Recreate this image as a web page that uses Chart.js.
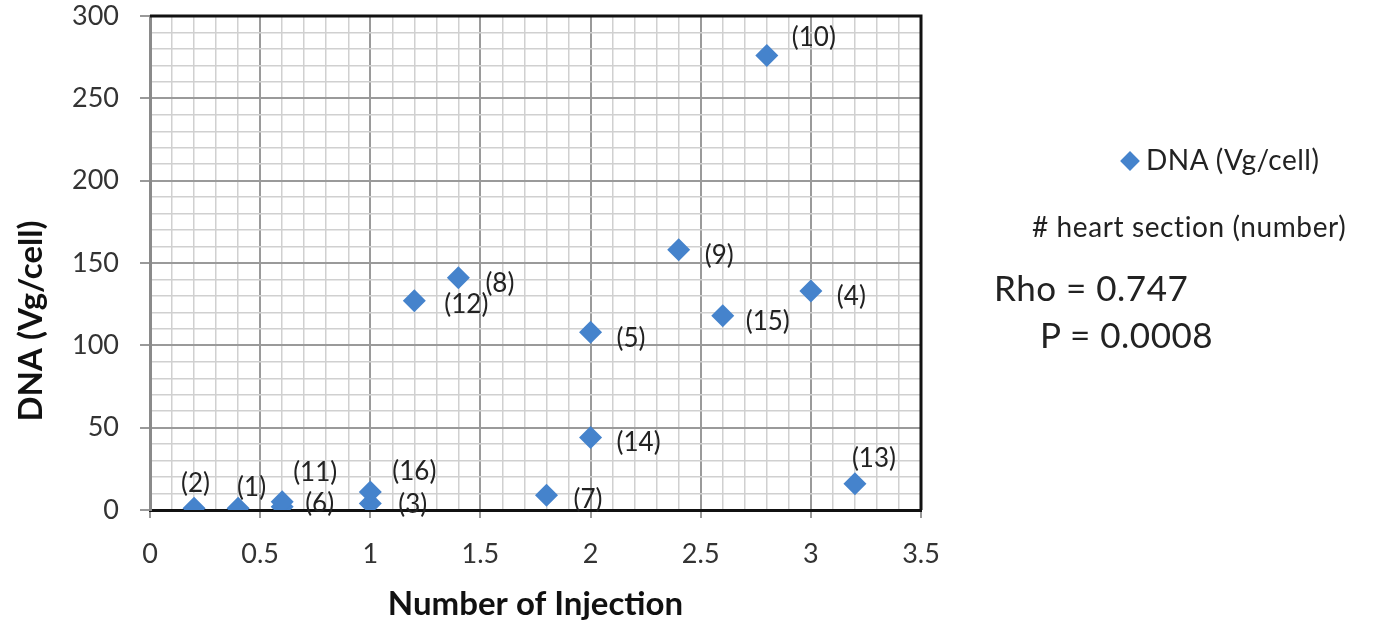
<!DOCTYPE html>
<html>
<head>
<meta charset="utf-8">
<script src="https://cdn.jsdelivr.net/npm/chart.js@4.4.0/dist/chart.umd.min.js"></script>
<style>
    body { margin: 0; background: #fff; }
    #wrap { position: relative; width: 1374px; height: 627px; }
    #c { position: absolute; left: 0; top: 0; }
    .side { position: absolute; font-family: Lato, "Open Sans", sans-serif; color: #222; white-space: nowrap; line-height: 1; }
    .dia { display: inline-block; width: 14px; height: 14px; background: #4583cc; transform: rotate(45deg); margin: 0 9px 4px 2px; vertical-align: middle; }
</style>
</head>
<body>
<div id="wrap">
    <canvas id="c" width="1374" height="627"></canvas>
    <div class="side" style="left:1121px; top:145px; font-size:28px; letter-spacing:0.5px;"><span class="dia"></span>DNA (Vg/cell)</div>
    <div class="side" style="left:1032px; top:212px; font-size:28px; letter-spacing:0.6px;"># heart section (number)</div>
    <div class="side" style="left:994px; top:270px; font-size:35px; letter-spacing:0.5px;">Rho = 0.747</div>
    <div class="side" style="left:1040px; top:317px; font-size:35px; letter-spacing:0.5px;">P = 0.0008</div>
</div>
<script>
// heart sections (1)..(16)
const sectionLabels = ['(1)', '(2)', '(3)', '(4)', '(5)', '(6)', '(7)', '(8)',
    '(9)', '(10)', '(11)', '(12)', '(13)', '(14)', '(15)', '(16)'];
const injections = [0.4, 0.2, 1, 3, 2, 0.6, 1.8, 1.4, 2.4, 2.8, 0.6, 1.2, 3.2, 2, 2.6, 1];
const dnaValues = [1, 1, 4, 133, 108, 2, 9, 141, 158, 276, 5, 127, 16, 44, 118, 11];

// where each label sits relative to its point (left edge, vertical centre)
const labelOffsets = [[-1, -21], [-13, -25], [28, 1], [26, 6], [26, 6], [23, -3], [27, 4], [27, 6],
    [26, 6], [25, -18], [11, -29], [30, 4], [-3, -25], [26, 5], [23, 6], [22, -20]];

const FONT = 'Lato, "Open Sans", sans-serif';

function isMajor(v, step) {
    const r = v / step;
    return Math.abs(r - Math.round(r)) < 1e-6;
}

const pointLabels = {
    id: 'pointLabels',
    afterDatasetsDraw(chart) {
        const ctx = chart.ctx;
        const meta = chart.getDatasetMeta(0);
        ctx.save();
        ctx.font = '26px ' + FONT;
        ctx.fillStyle = '#222';
        ctx.textAlign = 'left';
        ctx.textBaseline = 'middle';
        meta.data.forEach((pt, i) => {
            const off = labelOffsets[i];
            ctx.fillText(sectionLabels[i], pt.x + off[0], pt.y + off[1]);
        });
        ctx.restore();
    }
};

const frame = {
    id: 'frame',
    afterDraw(chart) {
        const a = chart.chartArea;
        const ctx = chart.ctx;
        ctx.save();
        ctx.strokeStyle = '#111';
        ctx.lineWidth = 3;
        ctx.beginPath();
        ctx.moveTo(a.left, a.top);
        ctx.lineTo(a.right, a.top);
        ctx.lineTo(a.right, a.bottom);
        ctx.stroke();

        ctx.fillStyle = '#111';
        ctx.font = 'bold 33px ' + FONT;
        ctx.textAlign = 'center';
        ctx.textBaseline = 'middle';
        ctx.fillText('Number of Injection', (a.left + a.right) / 2, 604);
        ctx.translate(31, 321);
        ctx.rotate(-Math.PI / 2);
        ctx.fillText('DNA (Vg/cell)', 0, 0);
        ctx.restore();
    }
};

const ctx = document.getElementById('c').getContext('2d');
const points = injections.map((x, i) => ({ x: x, y: dnaValues[i] }));

new Chart(ctx, {
    type: 'scatter',
    data: {
        datasets: [{
            label: 'DNA (Vg/cell)',
            data: points,
            pointStyle: 'rectRot',
            pointRadius: 11.5,
            pointHoverRadius: 11.5,
            backgroundColor: '#4583cc',
            borderColor: '#4583cc',
            borderWidth: 0
        }]
    },
    options: {
        responsive: false,
        animation: false,
        layout: { padding: { top: 16, right: 453, left: 0, bottom: 0 } },
        plugins: {
            legend: { display: false },
            tooltip: { enabled: false }
        },
        scales: {
            x: {
                type: 'linear',
                min: 0,
                max: 3.5,
                afterFit: scale => {
                    scale.height = 117;
                    scale.paddingLeft = 0;
                    scale.paddingRight = 0;
                },
                ticks: {
                    stepSize: 0.1,
                    autoSkip: false,
                    maxRotation: 0,
                    padding: 20,
                    color: '#333',
                    font: { family: FONT, size: 27 },
                    callback: v => isMajor(v, 0.5) ? String(Math.round(v * 10) / 10) : ''
                },
                grid: {
                    color: c => isMajor(c.tick.value, 0.5) ? '#9a9a9a' : '#d0d0d0',
                    lineWidth: c => isMajor(c.tick.value, 0.5) ? 2 : 1.5,
                    tickColor: c => isMajor(c.tick.value, 0.5) ? '#999' : 'rgba(0,0,0,0)',
                    tickLength: 8
                },
                border: { color: '#111', width: 3 }
            },
            y: {
                min: 0,
                max: 300,
                afterFit: scale => {
                    scale.width = 150;
                    scale.paddingTop = 0;
                    scale.paddingBottom = 0;
                },
                ticks: {
                    stepSize: 10,
                    autoSkip: false,
                    padding: 21,
                    color: '#333',
                    font: { family: FONT, size: 27 },
                    callback: v => isMajor(v, 50) ? String(v) : ''
                },
                grid: {
                    color: c => isMajor(c.tick.value, 50) ? '#9a9a9a' : '#d0d0d0',
                    lineWidth: c => isMajor(c.tick.value, 50) ? 2 : 1.5,
                    tickColor: c => isMajor(c.tick.value, 50) ? '#999' : 'rgba(0,0,0,0)',
                    tickLength: 10
                },
                border: { color: '#8a8a8a', width: 3 }
            }
        }
    },
    plugins: [pointLabels, frame]
});
</script>
</body>
</html>
